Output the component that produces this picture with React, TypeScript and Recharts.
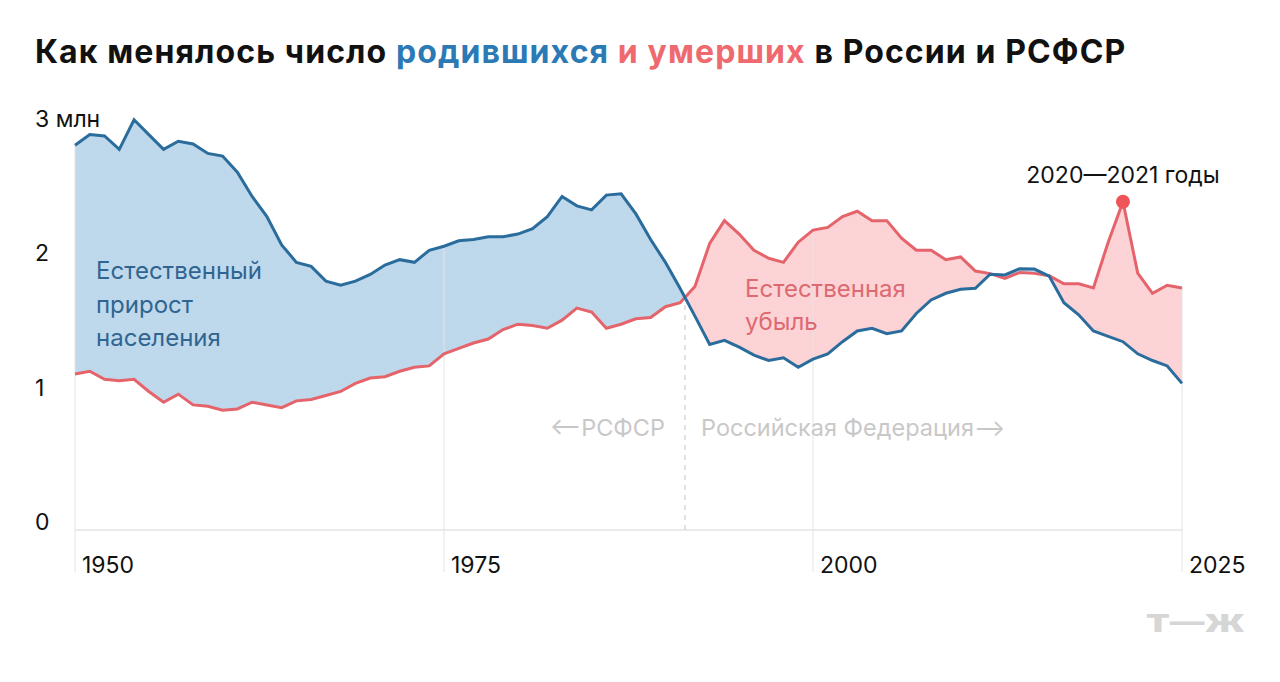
import React from 'react';
import {
  ComposedChart,
  Area,
  Line,
  XAxis,
  YAxis,
  ReferenceLine,
  ReferenceDot,
} from 'recharts';

// Годы, млн человек
const years = [
  1950, 1951, 1952, 1953, 1954, 1955, 1956, 1957, 1958, 1959,
  1960, 1961, 1962, 1963, 1964, 1965, 1966, 1967, 1968, 1969,
  1970, 1971, 1972, 1973, 1974, 1975, 1976, 1977, 1978, 1979,
  1980, 1981, 1982, 1983, 1984, 1985, 1986, 1987, 1988, 1989,
  1990, 1991, 1992, 1993, 1994, 1995, 1996, 1997, 1998, 1999,
  2000, 2001, 2002, 2003, 2004, 2005, 2006, 2007, 2008, 2009,
  2010, 2011, 2012, 2013, 2014, 2015, 2016, 2017, 2018, 2019,
  2020, 2021, 2022, 2023, 2024, 2025,
];

const births = [
  2.86, 2.94, 2.93, 2.83, 3.05, 2.94, 2.83, 2.89, 2.87, 2.8,
  2.78, 2.66, 2.48, 2.33, 2.12, 1.99, 1.96, 1.85, 1.82, 1.85,
  1.9, 1.97, 2.01, 1.99, 2.08, 2.11, 2.15, 2.16, 2.18, 2.18,
  2.2, 2.24, 2.33, 2.48, 2.41, 2.38, 2.49, 2.5, 2.35, 2.16,
  1.99, 1.795, 1.59, 1.38, 1.41, 1.36, 1.3, 1.26, 1.28, 1.21,
  1.27, 1.31, 1.4, 1.48, 1.5, 1.46, 1.48, 1.61, 1.71, 1.76,
  1.79, 1.797, 1.902, 1.896, 1.943, 1.94, 1.888, 1.69, 1.6, 1.48,
  1.44, 1.4, 1.31, 1.26, 1.22, 1.09,
];

const deaths = [
  1.16, 1.18, 1.12, 1.11, 1.12, 1.03, 0.95, 1.01, 0.93, 0.92,
  0.89, 0.9, 0.95, 0.93, 0.91, 0.96, 0.97, 1.0, 1.03, 1.09,
  1.13, 1.14, 1.18, 1.21, 1.22, 1.31, 1.35, 1.39, 1.42, 1.49,
  1.53, 1.52, 1.5, 1.56, 1.65, 1.62, 1.5, 1.53, 1.57, 1.58,
  1.66, 1.69, 1.81, 2.13, 2.3, 2.2, 2.08, 2.02, 1.99, 2.14,
  2.23, 2.25, 2.33, 2.37, 2.3, 2.3, 2.17, 2.08, 2.08, 2.01,
  2.03, 1.925, 1.906, 1.871, 1.914, 1.908, 1.891, 1.83, 1.83, 1.8,
  2.14, 2.44, 1.91, 1.76, 1.82, 1.8,
];

const xTicks = [1950, 1975, 2000, 2025];
const yTicks = [0, 1, 2, 3];

const BLUE = '#2a6c9c';
const RED = '#e5646b';
const BLUE_FILL = '#b9d5ea';
const RED_FILL = '#fccfd2';
const GRID = '#e4e4e4';
const FONT = 'Inter, Roboto, sans-serif';

const data = years.map((year, i) => ({
  year,
  births: births[i],
  deaths: deaths[i],
  band: [deaths[i], births[i]],
}));

// годы, где линии пересекаются
const crossings: number[] = [];
for (let i = 1; i < years.length; i++) {
  const d0 = births[i - 1] - deaths[i - 1];
  const d1 = births[i] - deaths[i];
  if (d0 * d1 < 0) crossings.push(years[i - 1] + d0 / (d0 - d1));
}
const x0 = years[0];
const span = years[years.length - 1] - x0;
const stops: { offset: number; color: string }[] = [];
let blue = births[0] > deaths[0];
stops.push({ offset: 0, color: blue ? BLUE_FILL : RED_FILL });
crossings.forEach((c) => {
  const o = (c - x0) / span;
  stops.push({ offset: o, color: blue ? BLUE_FILL : RED_FILL });
  blue = !blue;
  stops.push({ offset: o, color: blue ? BLUE_FILL : RED_FILL });
});
stops.push({ offset: 1, color: blue ? BLUE_FILL : RED_FILL });

const rsfsrEnd = crossings[0];
const rsfsrEndValue = (() => {
  const i = years.findIndex((y) => y > rsfsrEnd) - 1;
  const t = rsfsrEnd - years[i];
  return births[i] + (births[i + 1] - births[i]) * t;
})();
const peakIdx = years.indexOf(2021);

const XTick = (props: any) => {
  const { x, y, payload } = props;
  return (
    <g>
      <line x1={x} x2={x} y1={y} y2={y + 42} stroke={GRID} strokeWidth={1} />
      <text x={x + 7} y={y + 43} fontSize={23} fontFamily={FONT} fill="#111">
        {payload.value}
      </text>
    </g>
  );
};

const YTick = (props: any) => {
  const { y, payload } = props;
  return (
    <text x={35} y={y} fontSize={23} fontFamily={FONT} fill="#111">
      {payload.value === 3 ? '3 млн' : payload.value}
    </text>
  );
};

export default function App() {
  return (
    <div
      style={{
        position: 'absolute',
        left: 0,
        top: 0,
        width: 1280,
        height: 682,
        background: '#fff',
        fontFamily: FONT,
      }}
    >
      <svg width={0} height={0} style={{ position: 'absolute' }}>
        <defs>
          <linearGradient id="split" x1="0" y1="0" x2="1" y2="0">
            {stops.map((s, i) => (
              <stop key={i} offset={s.offset} stopColor={s.color} />
            ))}
          </linearGradient>
        </defs>
      </svg>

      <svg
        width={1280}
        height={90}
        style={{ position: 'absolute', left: 0, top: 0 }}
        fontFamily={FONT}
      >
        <text
          x={35}
          y={63}
          fontSize={32}
          fontWeight={700}
          fill="#111"
          letterSpacing={1.1}
        >
          Как менялось число <tspan fill="#2b7ab5">родившихся</tspan>{' '}
          <tspan fill="#ef6a6e">и умерших</tspan> в России и РСФСР
        </text>
      </svg>

      <ComposedChart
        width={1280}
        height={682}
        data={data}
        margin={{ top: 113.05, right: 98, bottom: 102, left: 35 }}
      >
        {xTicks.map((t) => {
          const i = years.indexOf(t);
          return (
            <ReferenceLine
              key={t}
              segment={[
                { x: t, y: 0 },
                { x: t, y: Math.max(births[i], deaths[i]) },
              ]}
              stroke={GRID}
              strokeWidth={1}
            />
          );
        })}
        <ReferenceLine y={0} stroke={GRID} strokeWidth={1.5} />
        <XAxis
          dataKey="year"
          type="number"
          domain={[1950, 2025]}
          ticks={xTicks}
          axisLine={false}
          tickLine={false}
          tickSize={0}
          tickMargin={0}
          height={50}
          tick={<XTick />}
          interval={0}
        />
        <YAxis
          domain={[0, 3.1]}
          ticks={yTicks}
          axisLine={false}
          tickLine={false}
          width={40}
          tick={<YTick />}
          interval={0}
        />
        <Area
          dataKey="band"
          stroke="none"
          fill="url(#split)"
          fillOpacity={0.92}
          isAnimationActive={false}
        />
        <ReferenceLine
          segment={[
            { x: rsfsrEnd, y: 0 },
            { x: rsfsrEnd, y: rsfsrEndValue },
          ]}
          stroke="#c4c4c4"
          strokeDasharray="5 5"
          strokeWidth={1}
        />
        <Line
          dataKey="deaths"
          stroke={RED}
          strokeWidth={3}
          dot={false}
          isAnimationActive={false}
        />
        <Line
          dataKey="births"
          stroke={BLUE}
          strokeWidth={3}
          dot={false}
          isAnimationActive={false}
        />
        <ReferenceDot
          x={2021}
          y={deaths[peakIdx]}
          r={7}
          fill="#ef5558"
          stroke="none"
          ifOverflow="visible"
          label={{
            value: '2020—2021 годы',
            position: 'top',
            offset: 12,
            fontSize: 23,
            fontFamily: FONT,
            fill: '#111',
          }}
        />
      </ComposedChart>

      <svg
        width={1280}
        height={682}
        style={{ position: 'absolute', left: 0, top: 0, pointerEvents: 'none' }}
        fontFamily={FONT}
      >
        <text fontSize={24} fill="#2f6590">
          <tspan x={96} y={279}>Естественный</tspan>
          <tspan x={96} y={313}>прирост</tspan>
          <tspan x={96} y={346}>населения</tspan>
        </text>
        <text fontSize={24} fill="#dc6a70">
          <tspan x={745} y={297}>Естественная</tspan>
          <tspan x={745} y={330}>убыль</tspan>
        </text>
        <text x={665} y={436} fontSize={23.5} fill="#c8c8c8" textAnchor="end">
          ⟵РСФСР
        </text>
        <text x={701} y={436} fontSize={23.5} fill="#c8c8c8">
          Российская Федерация⟶
        </text>
        <text
          x={0}
          y={0}
          fontSize={24}
          fontWeight={900}
          fill="#d6d6d6"
          textAnchor="end"
          transform="translate(1245 632) scale(1.45 1)"
        >
          Т—Ж
        </text>
      </svg>
    </div>
  );
}
